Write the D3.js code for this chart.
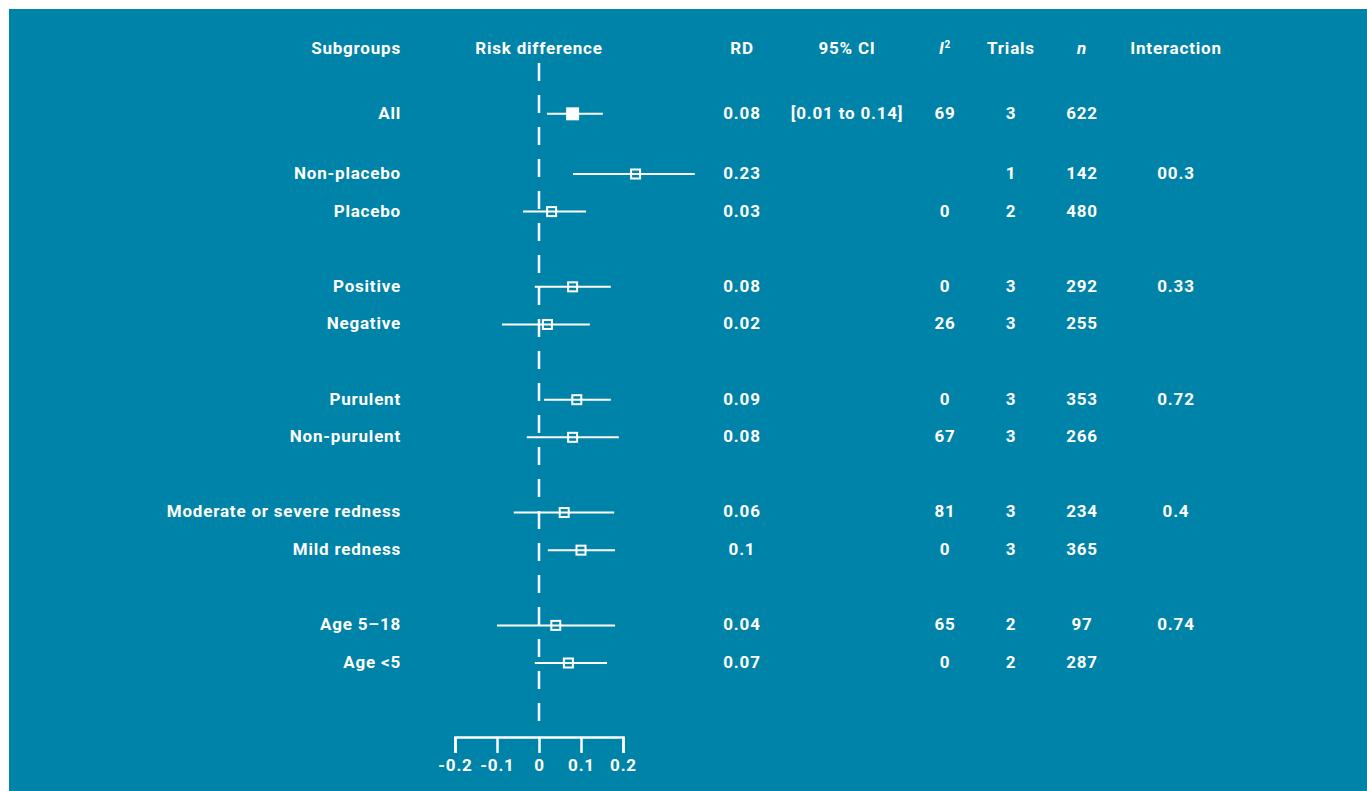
<!DOCTYPE html>
<html>
<head>
<meta charset="utf-8">
<script src="https://cdn.jsdelivr.net/npm/d3@7"></script>
<style>
  body { margin: 0; background: #fff; }
  svg text { font-family: Roboto, "DejaVu Sans", sans-serif; font-weight: 700; fill: #fff; letter-spacing: 0.8px; }
</style>
</head>
<body>
<svg id="chart"></svg>
<script>
// data
const subgroups = ["All", "Non-placebo", "Placebo", "Positive", "Negative", "Purulent", "Non-purulent",
  "Moderate or severe redness", "Mild redness", "Age 5–18", "Age <5"];
const rd     = [0.08, 0.23, 0.03, 0.08, 0.02, 0.09, 0.08, 0.06, 0.1, 0.04, 0.07];
const ciLow  = [0.019, 0.081, -0.038, -0.010, -0.088, 0.012, -0.029, -0.060, 0.021, -0.100, -0.010];
const ciHigh = [0.152, 0.371, 0.112, 0.171, 0.121, 0.171, 0.190, 0.179, 0.181, 0.181, 0.162];
const ciText = ["[0.01 to 0.14]", "", "", "", "", "", "", "", "", "", ""];
const i2     = ["69", "", "0", "0", "26", "0", "67", "81", "0", "65", "0"];
const trials = [3, 1, 2, 3, 3, 3, 3, 3, 3, 2, 2];
const nums   = [622, 142, 480, 292, 255, 353, 266, 234, 365, 97, 287];
const interaction = ["", "00.3", "", "0.33", "", "0.72", "", "0.4", "", "0.74", ""];
// row slot of each subgroup (blank slots separate the groups)
const slots  = [-1.6, 0, 1, 3, 4, 6, 7, 9, 10, 12, 13];
const axisTicks = [-0.2, -0.1, 0, 0.1, 0.2];

const W = 1367, H = 791;
const FS = 17;
const svg = d3.select("#chart").attr("width", W).attr("height", H);

svg.append("rect")
  .attr("x", 9).attr("y", 9)
  .attr("width", W - 9).attr("height", H - 9)
  .attr("fill", "#0083a8");

const x = d3.scaleLinear().domain([-0.2, 0.2]).range([455, 623]);
const y = d3.scaleLinear().domain([0, 13]).range([172, 661]);

const rows = subgroups.map((s, i) => ({
  name: s, rd: rd[i], lo: ciLow[i], hi: ciHigh[i], ci: ciText[i],
  i2: i2[i], trials: trials[i], n: nums[i], inter: interaction[i], slot: slots[i]
}));

// column headers
const headY = 48;
const cols = [
  { key: "rd",     x: 742,  title: "RD" },
  { key: "ci",     x: 847,  title: "95% CI" },
  { key: "i2",     x: 945,  title: "I2" },
  { key: "trials", x: 1011, title: "Trials" },
  { key: "n",      x: 1082, title: "n" },
  { key: "inter",  x: 1176, title: "Interaction" }
];

const head = svg.append("g").attr("font-size", FS);
head.append("text").attr("x", 401).attr("y", headY).attr("dy", "0.35em")
  .attr("text-anchor", "end").text("Subgroups");
head.append("text").attr("x", x(0)).attr("y", headY).attr("dy", "0.35em")
  .attr("text-anchor", "middle").text("Risk difference");

cols.forEach(c => {
  const t = head.append("text").attr("x", c.x).attr("y", headY).attr("dy", "0.35em")
    .attr("text-anchor", "middle");
  if (c.key === "i2") {
    t.append("tspan").attr("font-style", "italic").text("I");
    t.append("tspan").attr("font-size", 10).attr("dy", "-0.6em").text("2");
  } else if (c.key === "n") {
    t.attr("font-style", "italic").text(c.title);
  } else {
    t.text(c.title);
  }
});

// null line
svg.append("line")
  .attr("x1", x(0)).attr("x2", x(0))
  .attr("y1", 63).attr("y2", 721)
  .attr("stroke", "#fff").attr("stroke-width", 2.5)
  .attr("stroke-dasharray", "18,14");

// rows
const row = svg.selectAll(".row")
  .data(rows)
  .join("g")
  .attr("class", "row")
  .attr("transform", d => `translate(0,${y(d.slot)})`);

row.append("text")
  .attr("x", 401).attr("y", 1).attr("dy", "0.35em")
  .attr("font-size", FS)
  .attr("text-anchor", "end")
  .text(d => d.name);

row.append("line")
  .attr("x1", d => x(d.lo)).attr("x2", d => x(d.hi))
  .attr("y1", 2).attr("y2", 2)
  .attr("stroke", "#fff").attr("stroke-width", 2);

row.append("rect")
  .attr("x", (d, i) => x(d.rd) - (i === 0 ? 5.5 : 4.5))
  .attr("y", (d, i) => 2 - (i === 0 ? 5.5 : 4.5))
  .attr("width", (d, i) => i === 0 ? 11 : 9)
  .attr("height", (d, i) => i === 0 ? 11 : 9)
  .attr("fill", (d, i) => i === 0 ? "#fff" : "none")
  .attr("stroke", "#fff").attr("stroke-width", 2);

cols.forEach(c => {
  row.append("text")
    .attr("x", c.x).attr("y", 1).attr("dy", "0.35em")
    .attr("font-size", FS)
    .attr("text-anchor", "middle")
    .text(d => c.key === "inter" ? d.inter : String(d[c.key]));
});

// axis
const axis = svg.append("g")
  .attr("transform", "translate(0,737)")
  .call(d3.axisBottom(x).tickValues(axisTicks).tickSize(16).tickPadding(6)
    .tickFormat(d => d === 0 ? "0" : String(d)));
axis.selectAll("path, line").attr("stroke", "#fff").attr("stroke-width", 2.5);
axis.selectAll("text").attr("font-size", FS).attr("font-family", null).attr("fill", "#fff");
</script>
</body>
</html>
